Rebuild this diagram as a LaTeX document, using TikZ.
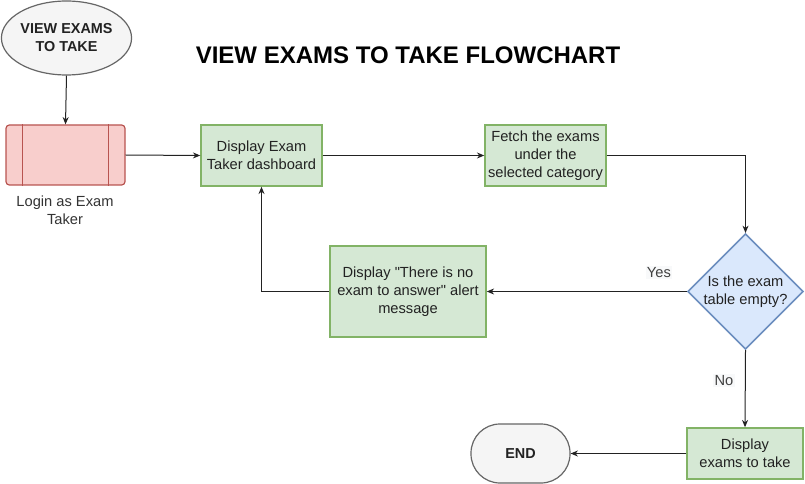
\documentclass[tikz,border=0pt]{standalone}
\usepackage{fontspec}
\setmainfont{Liberation Sans}
\newfontfamily\qfont{Liberation Sans}
\usetikzlibrary{shapes.geometric,arrows.meta,calc}
\definecolor{grayfill}{HTML}{F5F5F5}
\definecolor{grayline}{HTML}{666666}
\definecolor{redfill}{HTML}{F8CECC}
\definecolor{redline}{HTML}{B85450}
\definecolor{greenfill}{HTML}{D5E8D4}
\definecolor{greenline}{HTML}{82B366}
\definecolor{bluefill}{HTML}{DAE8FC}
\definecolor{blueline}{HTML}{6C8EBF}
\definecolor{edgecol}{HTML}{222222}
\definecolor{labelbg}{HTML}{F8F9FA}
\definecolor{textcol}{HTML}{222222}
\begin{document}
\begin{tikzpicture}[x=0.75pt,y=-0.75pt,
  every node/.style={font=\fontsize{11}{13.5}\selectfont, text=textcol},
  greenbox/.style={draw=greenline, fill=greenfill, line width=1.1pt, align=center, inner sep=0pt},
  terminal/.style={draw=grayline, fill=grayfill, line width=0.9pt, align=center, inner sep=0pt, font=\fontsize{10.8}{13.5}\selectfont\bfseries},
  conn/.style={draw=edgecol, line width=0.75pt, -{Stealth[length=5.5pt,width=4.5pt]}},
  edgelabel/.style={fill=labelbg, inner sep=1pt, text=black!75}
]
\useasboundingbox (0,0) rectangle (805,484);
% title
\node[font=\fontsize{18}{21}\selectfont\bfseries, text=black] (title) at (408,55) {VIEW EXAMS TO TAKE FLOWCHART};
% start
\node[terminal, ellipse, minimum width={127*0.75pt}, minimum height={74*0.75pt}] (start) at (66.5,38) {VIEW EXAMS\\TO TAKE};
% login process
\node[draw=redline, fill=redfill, line width=0.9pt, rounded corners=2.5pt, minimum width={119*0.75pt}, minimum height={60*0.75pt}, inner sep=0pt] (login) at (65.5,155) {};
\draw[redline, line width=0.9pt] ($(login.north west)+(17,0)$) -- ($(login.south west)+(17,0)$);
\draw[redline, line width=0.9pt] ($(login.north east)+(-17,0)$) -- ($(login.south east)+(-17,0)$);
\node[align=center, text=black!80] (loginlabel) at (65,210) {Login as Exam\\Taker};
% dashboard
\node[greenbox, minimum width={121*0.75pt}, minimum height={61*0.75pt}] (dash) at (261.5,155.5) {Display Exam\\Taker dashboard};
% fetch
\node[greenbox, minimum width={121*0.75pt}, minimum height={61*0.75pt}] (fetch) at (545.5,155.5) {Fetch the exams\\under the\\selected category};
% decision
\node[draw=blueline, fill=bluefill, line width=1.1pt, diamond, aspect=1, minimum width={115*0.75pt}, minimum height={115*0.75pt}, inner sep=0pt, align=center] (dec) at (745.5,291.5) {Is the exam\\table empty?};
% alert
\node[greenbox, minimum width={156*0.75pt}, minimum height={91*0.75pt}] (alert) at (408,291.5) {Display {\qfont"}There is no\\exam to answer{\qfont"} alert\\message};
% display exams
\node[greenbox, minimum width={116*0.75pt}, minimum height={51*0.75pt}] (show) at (745,453.5) {Display\\exams to take};
% end
\node[terminal, rounded corners={29*0.75pt}, minimum width={99*0.75pt}, minimum height={59*0.75pt}] (end) at (520.5,453.5) {END};
% connectors
\draw[conn] (start.south) -- (login.north);
\draw[conn] (login.east) -- (dash.west);
\draw[conn] (dash.east) -- (fetch.west);
\draw[conn] (fetch.east) -| (dec.north);
\draw[conn] (dec.west) -- node[edgelabel, pos=0.14, yshift=14pt] (yes) {Yes} (alert.east);
\draw[conn] (alert.west) -| (dash.south);
\draw[conn] (dec.south) -- node[edgelabel, pos=0.4, xshift=-16pt] (no) {No} (show.north);
\draw[conn] (show.west) -- (end.east);
\end{tikzpicture}
\end{document}
